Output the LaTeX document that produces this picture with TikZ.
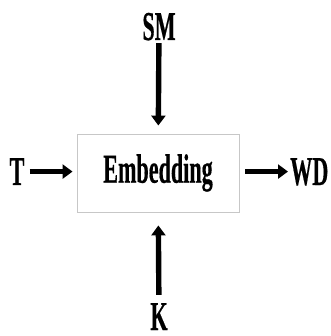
\documentclass[tikz,border=0pt]{standalone}
\usepackage{fontspec}
\setmainfont{Liberation Serif}
\newfontfamily\heavyserif{Liberation Serif Bold}[FakeBold=0.6]
\usetikzlibrary{arrows.meta}
\tikzset{
  lbl/.style={inner sep=0pt, text depth=0pt, font=\heavyserif\fontsize{41}{41}\selectfont},
  blockbox/.style={draw=black!22, line width=0.9pt, minimum width=162pt,
    minimum height=78pt, inner sep=0pt, font=\heavyserif\fontsize{41}{41}\selectfont},
  fat/.style={line width=5.4pt, -{Triangle[length=10pt,width=14pt]}}
}
\newcommand{\narrow}[1]{\scalebox{0.54}[1]{#1}}
\begin{document}
\begin{tikzpicture}[x=1pt,y=1pt]
  \useasboundingbox (0,0) rectangle (330,-336);
  % central block
  \node[blockbox] (emb) at (158,-173) {\narrow{Embedding}};
  % inputs and output
  \node[lbl, anchor=base] (sm) at (159,-40) {\narrow{SM}};
  \node[lbl, anchor=base] (k) at (159,-330) {\narrow{K}};
  \node[lbl, anchor=base] (t) at (17,-185) {\narrow{T}};
  \node[lbl, anchor=base west] (wd) at (290,-185) {\narrow{WD}};
  % connectors
  \draw[fat, shorten <=3pt, shorten >=8pt] (sm) -- (emb);
  \draw[fat, shorten <=8pt, shorten >=13pt] (k) -- (emb);
  \draw[fat, shorten <=5pt, shorten >=4pt] (t.east) -- (t.east -| emb.west);
  \draw[fat, shorten <=6pt, shorten >=2pt] (wd.west -| emb.east) -- (wd.west);
\end{tikzpicture}
\end{document}
